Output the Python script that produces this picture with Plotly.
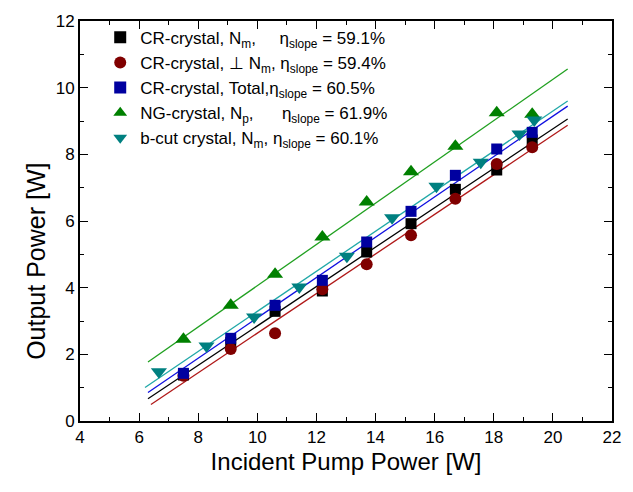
import numpy as np
import plotly.graph_objects as go

# Incident pump power [W] and output power [W] for each crystal / polarization
x_cr = [7.5, 9.1, 10.6, 12.2, 13.7, 15.2, 16.7, 18.1, 19.3]
y_cr_nm = [1.38, 2.35, 3.29, 3.90, 5.07, 5.92, 6.95, 7.53, 8.43]
y_cr_perp = [1.36, 2.16, 2.63, 3.95, 4.70, 5.57, 6.67, 7.71, 8.21]
y_cr_total = [1.43, 2.48, 3.47, 4.22, 5.37, 6.29, 7.37, 8.16, 8.66]
x_ng = [7.5, 9.1, 10.6, 12.2, 13.7, 15.2, 16.7, 18.1, 19.3]
y_ng_np = [2.45, 3.47, 4.40, 5.52, 6.57, 7.48, 8.24, 9.25, 9.20]
x_bcut = [6.67, 8.28, 9.89, 11.42, 13.03, 14.56, 16.06, 17.56, 18.87, 19.37]
y_bcut_nm = [1.48, 2.25, 3.12, 4.02, 4.94, 6.10, 7.04, 7.76, 8.61, 9.03]

# Slope efficiencies
slopes = [0.591, 0.594, 0.605, 0.619, 0.601]
fit_start = [6.3, 6.4, 6.3, 6.3, 6.2]
fit_end = 20.5

NB = "\u00a0"
labels = [
    f"CR-crystal, N<sub>m</sub>,{NB*5}η<sub>slope</sub> = 59.1%",
    f"CR-crystal, ⊥ N<sub>m</sub>, η<sub>slope</sub> = 59.4%",
    f"CR-crystal, Total,η<sub>slope</sub> = 60.5%",
    f"NG-crystal, N<sub>p</sub>,{NB*6}η<sub>slope</sub> = 61.9%",
    f"b-cut crystal, N<sub>m</sub>, η<sub>slope</sub> = 60.1%",
]

series = [
    (x_cr, y_cr_nm, "square", "#000000", "#000000", 11),
    (x_cr, y_cr_perp, "circle", "#800000", "#b01818", 12),
    (x_cr, y_cr_total, "square", "#0000a0", "#1010e0", 11),
    (x_ng, y_ng_np, "triangle-up", "#008000", "#20a020", 14),
    (x_bcut, y_bcut_nm, "triangle-down", "#008080", "#20a8a8", 14),
]

FONT = "Liberation Sans, Arial"

fig = go.Figure()

# Linear fits with the stated slope; intercept from least squares
for (xs, ys, sym, mcol, lcol, msz), s, x0 in zip(series, slopes, fit_start):
    xa, ya = np.array(xs), np.array(ys)
    b = float(np.mean(ya - s * xa))
    xl = [x0, fit_end]
    fig.add_trace(go.Scatter(
        x=xl, y=[s * v + b for v in xl], mode="lines",
        line=dict(color=lcol, width=1.3), showlegend=False, hoverinfo="skip",
    ))

for (xs, ys, sym, mcol, lcol, msz), lab in zip(series, labels):
    fig.add_trace(go.Scatter(
        x=xs, y=ys, mode="markers", name=lab,
        marker=dict(symbol=sym, color=mcol, size=msz, line=dict(width=0)),
    ))

axis_common = dict(
    showline=True, linecolor="black", linewidth=1.8, mirror="ticks",
    ticks="inside", ticklen=8, tickwidth=1.3, tickcolor="black",
    showgrid=False, zeroline=False,
    tickfont=dict(family=FONT, size=17, color="#000"),
    minor=dict(ticks="inside", ticklen=4, tickwidth=1.3, tickcolor="black", showgrid=False),
)

fig.update_xaxes(
    range=[4, 22], tick0=4, dtick=2, minor_dtick=1,
    title=dict(text="Incident Pump Power [W]", font=dict(family=FONT, size=24, color="#000"), standoff=7),
    **axis_common,
)
fig.update_yaxes(range=[0, 12], tick0=0, dtick=2, minor_dtick=1, **axis_common)

# Vertical axis label, set slightly below the middle of the axis
fig.add_annotation(
    text="Output Power [W]", xref="paper", yref="paper",
    x=-0.083, y=0.40, xanchor="center", yanchor="middle",
    textangle=-90, showarrow=False,
    font=dict(family=FONT, size=25, color="#000"),
)

fig.update_layout(
    width=633, height=492,
    margin=dict(l=80, r=12, t=20, b=71),
    paper_bgcolor="white", plot_bgcolor="white",
    legend=dict(
        x=0.038, y=1.003, xanchor="left", yanchor="top",
        bgcolor="rgba(0,0,0,0)", borderwidth=0,
        font=dict(family=FONT, size=17, color="#000"),
        itemsizing="constant",
    ),
)

fig.write_html("out.html")
